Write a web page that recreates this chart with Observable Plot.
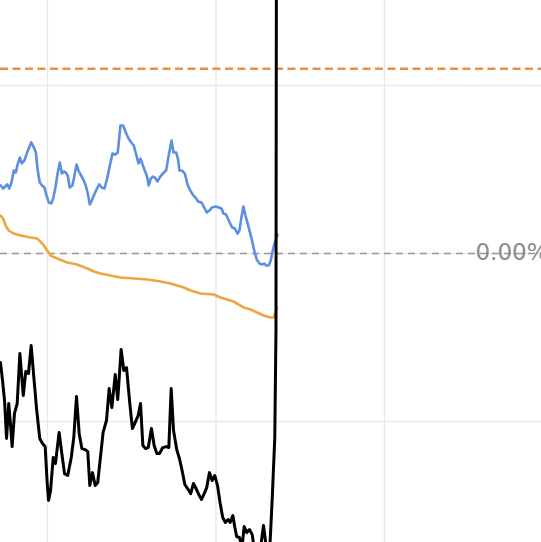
<!DOCTYPE html>
<html>
<head>
<meta charset="utf-8">
<script src="https://cdn.jsdelivr.net/npm/d3@7"></script>
<script src="https://cdn.jsdelivr.net/npm/@observablehq/plot@0.6"></script>
<style>
  html, body { margin: 0; padding: 0; background: #fff; overflow: hidden; }
  #chart svg { display: block; }
</style>
</head>
<body>
<div id="chart"></div>
<script>
// Visible window of the chart (x: day index, y: percent)
const xWindow = [72.1, 393.2];
const yWindow = [-17.2, 15.06];
const xGridTicks = [100, 200, 300];
const yGridTicks = [-10, 0, 10];
const refLevel = 11.0;
const zeroLabel = "0.00%";
const zeroLabelX = 354.0;

const blueX = [72.1,73.7,74.9,76.1,77.3,78.6,80.0,81.2,82.4,83.6,84.7,86.3,87.9,90.3,91.9,93.1,94.2,95.4,96.8,98.2,99.4,100.8,102.2,103.4,104.7,106.1,107.3,108.5,109.7,110.9,112.0,113.2,114.8,116.0,117.2,118.4,120.0,121.5,122.7,123.9,125.1,126.3,127.5,129.1,130.7,132.2,133.8,135.4,137.0,138.6,140.2,141.7,143.3,144.9,146.5,148.1,149.7,151.2,152.8,154.0,155.2,156.2,157.7,158.9,160.1,161.3,162.5,163.7,165.3,166.9,168.4,170.4,171.6,172.8,173.6,174.8,176.4,177.6,178.3,179.9,181.5,183.1,184.7,186.2,187.8,189.4,191.4,193.0,194.5,196.1,197.7,199.7,201.7,203.3,204.4,206.0,207.6,209.6,211.2,212.8,213.9,215.1,216.3,217.5,219.1,221.1,222.7,224.2,225.8,227.4,228.6,229.8,231.3,232.5,233.7,234.9,236.5];
const blueY = [4.05,3.87,3.99,4.11,3.87,4.23,4.94,4.82,5.36,5.71,5.36,5.54,6.01,6.61,6.31,6.01,4.94,4.23,4.05,3.93,3.45,3.04,2.98,3.27,3.93,4.82,5.42,4.76,4.88,4.82,4.64,3.93,4.05,4.64,5.30,4.94,4.64,4.35,4.05,3.57,2.92,3.15,3.45,3.81,4.11,3.93,3.87,4.46,5.24,5.95,5.89,6.01,7.62,7.62,7.20,6.85,6.61,6.43,5.83,5.36,5.65,5.36,4.94,4.64,4.05,4.46,4.58,4.52,4.29,4.58,4.76,4.94,5.65,6.31,6.73,6.01,6.01,5.54,4.94,4.94,4.76,4.11,3.75,3.51,3.33,3.10,3.04,2.74,2.44,2.56,2.74,2.80,2.74,2.68,2.38,2.32,1.96,1.55,1.49,1.19,1.37,2.14,2.80,2.26,1.67,0.89,0.18,-0.36,-0.60,-0.65,-0.60,-0.71,-0.71,-0.42,0.18,0.65,1.13];

const orangeX = [72.1,73.7,75.1,77.0,80.0,84.0,89.9,93.9,95.8,97.8,99.8,101.8,105.8,111.7,117.6,123.6,127.5,131.5,137.4,143.3,151.2,159.2,167.1,173.0,177.0,180.9,184.9,190.8,198.7,202.7,206.6,210.6,213.5,216.5,220.5,224.4,228.4,232.3,234.3,236.3];
const orangeY = [2.26,2.08,1.67,1.37,1.19,1.07,0.95,0.89,0.71,0.48,0.18,-0.12,-0.30,-0.54,-0.65,-0.89,-1.07,-1.19,-1.31,-1.43,-1.49,-1.55,-1.67,-1.79,-1.90,-2.02,-2.20,-2.38,-2.44,-2.62,-2.74,-2.86,-3.04,-3.21,-3.33,-3.51,-3.69,-3.81,-3.81,-3.21];

const blackX = [72.1,73.3,74.5,75.7,77.0,78.0,79.0,80.4,82.0,83.6,85.6,87.1,88.7,90.3,91.9,93.5,95.4,97.0,98.6,99.8,100.6,101.8,103.4,104.7,106.9,108.5,110.1,112.0,114.1,115.6,117.2,118.8,120.4,122.4,123.9,125.1,126.7,128.3,129.8,131.4,133.0,135.0,136.6,138.2,140.2,141.7,143.7,145.3,146.9,148.8,150.4,152.0,153.8,155.2,156.6,158.2,159.8,161.7,163.3,164.9,166.5,168.4,170.4,172.0,173.4,174.8,176.7,178.3,179.9,181.5,183.5,185.0,186.6,188.2,189.8,191.4,193.0,194.5,196.1,197.7,199.3,200.9,202.5,204.0,205.6,207.2,208.4,210.0,211.2,212.3,213.9,215.5,216.7,218.3,219.9,221.5,222.7,224.6,226.4,228.2,230.1,231.7,233.4,234.9,235.6,236.6];
const blackY = [-6.49,-7.56,-8.75,-11.01,-8.93,-10.12,-11.49,-9.52,-8.93,-5.95,-8.45,-7.02,-7.14,-5.48,-7.38,-9.23,-11.01,-11.31,-11.49,-13.63,-14.70,-14.11,-12.14,-12.50,-10.65,-11.90,-13.10,-13.21,-12.14,-10.95,-8.51,-10.71,-11.61,-11.67,-11.79,-13.81,-13.04,-13.81,-13.63,-12.14,-10.65,-9.94,-8.04,-9.17,-7.20,-8.69,-5.71,-6.96,-6.79,-8.87,-10.42,-10.06,-9.64,-8.93,-11.43,-11.61,-11.55,-10.42,-11.43,-11.90,-11.90,-11.55,-11.49,-11.55,-8.04,-10.54,-11.67,-12.20,-12.92,-13.75,-14.05,-14.29,-13.69,-13.99,-14.35,-14.64,-14.29,-13.93,-13.04,-13.51,-13.21,-13.81,-14.88,-15.71,-16.01,-15.83,-16.01,-15.60,-16.31,-16.85,-16.90,-17.44,-16.25,-16.61,-16.43,-16.73,-17.56,-18.04,-17.56,-16.19,-17.68,-18.04,-14.52,-10.95,-4.58,80.0];

const zip = (xs, ys) => xs.map((x, i) => ({x, y: ys[i]}));
const blue = zip(blueX, blueY);
const orange = zip(orangeX, orangeY);
const black = zip(blackX, blackY);

const chart = Plot.plot({
  width: 541,
  height: 542,
  marginTop: 0, marginRight: 0, marginBottom: 0, marginLeft: 0,
  x: {domain: xWindow, axis: null},
  y: {domain: yWindow, axis: null},
  style: {background: "#fff"},
  marks: [
    Plot.ruleX(xGridTicks, {stroke: "#e9e9e9", strokeWidth: 1.4}),
    Plot.ruleY(yGridTicks, {stroke: "#e9e9e9", strokeWidth: 1.4}),
    Plot.ruleY([0], {stroke: "#999", strokeWidth: 1.6, strokeDasharray: "7,5"}),
    Plot.ruleY([refLevel], {stroke: "#ea9148", strokeWidth: 2.4, strokeDasharray: "8,4.5"}),
    Plot.line(orange, {x: "x", y: "y", stroke: "#f0a540", strokeWidth: 2.6, curve: "linear"}),
    Plot.line(blue, {x: "x", y: "y", stroke: "#5b8fe0", strokeWidth: 2.6, curve: "linear"}),
    Plot.line(black, {x: "x", y: "y", stroke: "#000", strokeWidth: 3, curve: "linear"}),
    Plot.text([zeroLabel], {x: zeroLabelX, y: 0, text: d => d, textAnchor: "start", lineAnchor: "bottom", dy: 6, fill: "#8a8a8a", fontSize: 23, fontWeight: 500, fontFamily: "DejaVu Sans"})
  ]
});
document.getElementById("chart").appendChild(chart);
</script>
</body>
</html>
